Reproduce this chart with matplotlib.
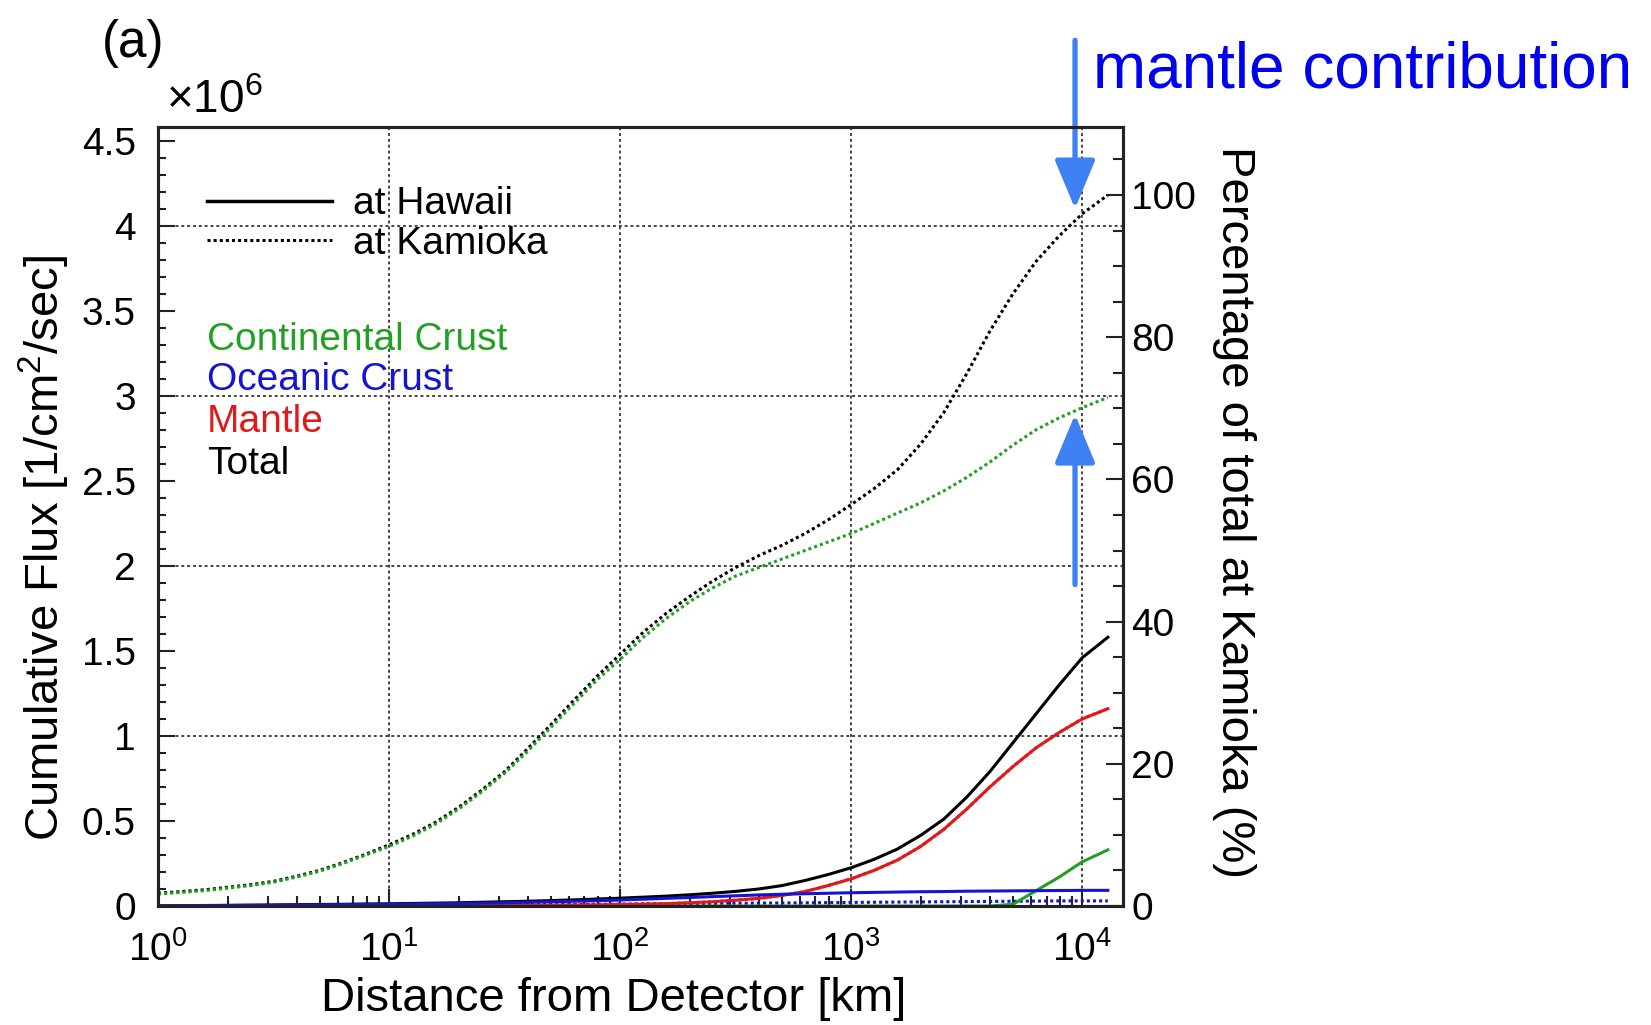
import matplotlib
matplotlib.use('Agg')
import matplotlib.pyplot as plt
from matplotlib.lines import Line2D
from matplotlib.ticker import MultipleLocator, FuncFormatter, LogLocator, NullFormatter

plt.rcParams['font.family'] = ['Liberation Sans', 'DejaVu Sans']
plt.rcParams['mathtext.fontset'] = 'custom'
plt.rcParams['mathtext.rm'] = 'Liberation Sans'
plt.rcParams['mathtext.it'] = 'Liberation Sans:italic'
plt.rcParams['mathtext.bf'] = 'Liberation Sans:bold'

# distance from detector [km], steps of 0.1 decade, last point ~ Earth diameter
dist_km = [1, 1.26, 1.58, 2.0, 2.51, 3.16, 3.98, 5.01, 6.31, 7.94,
           10, 12.6, 15.8, 20, 25.1, 31.6, 39.8, 50.1, 63.1, 79.4,
           100, 126, 158, 200, 251, 316, 398, 501, 631, 794,
           1000, 1259, 1585, 1995, 2512, 3162, 3981, 5012, 6310, 7943,
           10000, 12900]

# cumulative flux in units of 1e6 /cm2/sec
kam_cc = [0.07, 0.08, 0.09, 0.105, 0.12, 0.14, 0.17, 0.205, 0.25, 0.30,
          0.35, 0.41, 0.48, 0.57, 0.67, 0.78, 0.91, 1.05, 1.19, 1.33,
          1.45, 1.58, 1.69, 1.79, 1.87, 1.94, 1.99, 2.04, 2.09, 2.14,
          2.19, 2.25, 2.31, 2.37, 2.44, 2.52, 2.61, 2.71, 2.80, 2.87,
          2.93, 2.99]
kam_oc = [0.0, 0.0, 0.0, 0.001, 0.001, 0.002, 0.002, 0.003, 0.003, 0.004,
          0.004, 0.005, 0.005, 0.006, 0.006, 0.007, 0.008, 0.008, 0.009, 0.010,
          0.011, 0.012, 0.013, 0.014, 0.015, 0.016, 0.017, 0.018, 0.019, 0.020,
          0.021, 0.022, 0.023, 0.024, 0.025, 0.026, 0.027, 0.028, 0.029, 0.030,
          0.030, 0.030]
kam_mantle = [0.0, 0.0, 0.0, 0.0, 0.0, 0.0, 0.0, 0.0, 0.0, 0.0,
              0.001, 0.001, 0.002, 0.002, 0.003, 0.003, 0.004, 0.005, 0.006, 0.007,
              0.009, 0.011, 0.014, 0.019, 0.025, 0.034, 0.045, 0.062, 0.085, 0.12,
              0.16, 0.21, 0.27, 0.35, 0.45, 0.57, 0.70, 0.82, 0.93, 1.02,
              1.10, 1.16]
kam_total = [0.075, 0.085, 0.095, 0.11, 0.125, 0.145, 0.175, 0.21, 0.255, 0.305,
             0.36, 0.42, 0.49, 0.58, 0.68, 0.79, 0.925, 1.065, 1.21, 1.35,
             1.48, 1.61, 1.72, 1.82, 1.91, 1.99, 2.06, 2.12, 2.19, 2.27,
             2.36, 2.455, 2.565, 2.715, 2.90, 3.13, 3.38, 3.60, 3.79, 3.94,
             4.07, 4.18]

haw_cc = [0, 0, 0, 0, 0, 0, 0, 0, 0, 0,
          0, 0, 0, 0, 0, 0, 0, 0, 0, 0,
          0, 0, 0, 0, 0, 0, 0, 0, 0, 0,
          0, 0, 0, 0, 0, 0, 0.0, 0.01, 0.09, 0.17,
          0.26, 0.33]
haw_oc = [0.0, 0.001, 0.002, 0.003, 0.004, 0.005, 0.006, 0.007, 0.008, 0.009,
          0.010, 0.011, 0.013, 0.015, 0.017, 0.019, 0.022, 0.025, 0.028, 0.031,
          0.035, 0.040, 0.045, 0.050, 0.055, 0.060, 0.065, 0.069, 0.072, 0.075,
          0.078, 0.080, 0.082, 0.084, 0.085, 0.087, 0.088, 0.089, 0.090, 0.091,
          0.092, 0.092]
haw_mantle = [0.0, 0.0, 0.0, 0.0, 0.0, 0.0, 0.0, 0.0, 0.0, 0.0,
              0.001, 0.001, 0.002, 0.002, 0.003, 0.003, 0.004, 0.005, 0.006, 0.007,
              0.009, 0.011, 0.014, 0.019, 0.025, 0.034, 0.045, 0.062, 0.085, 0.12,
              0.16, 0.21, 0.27, 0.35, 0.45, 0.57, 0.70, 0.82, 0.93, 1.02,
              1.10, 1.16]
haw_total = [0.0, 0.002, 0.003, 0.004, 0.005, 0.006, 0.008, 0.009, 0.010, 0.012,
             0.013, 0.015, 0.017, 0.019, 0.022, 0.025, 0.028, 0.032, 0.036, 0.041,
             0.046, 0.052, 0.058, 0.066, 0.075, 0.086, 0.100, 0.12, 0.15, 0.185,
             0.225, 0.275, 0.335, 0.415, 0.51, 0.64, 0.79, 0.96, 1.13, 1.30,
             1.46, 1.58]

kamioka_total_final = 4.18   # = 100 % on the right axis
grid_y = [1, 2, 3, 4]

GREEN = '#22a022'
BLUE = '#1414d2'
RED = '#e01a1a'
ARROW = '#3f80f5'
DOT = (0, (1, 1))
GRID = (0, (1.5, 1.5))

fig = plt.figure(figsize=(16.51, 10.25), dpi=100)
ax = fig.add_axes([158/1651, 1 - 906/1025, 965/1651, 779/1025])

# Kamioka (dotted)
ax.plot(dist_km, kam_mantle, color=RED, lw=2.2, ls=DOT)
ax.plot(dist_km, kam_oc, color=BLUE, lw=2.2, ls=DOT)
ax.plot(dist_km, kam_total, color='k', lw=2.2, ls=DOT)
ax.plot(dist_km, kam_cc, color=GREEN, lw=2.2, ls=DOT)
# Hawaii (solid)
ax.plot(dist_km, haw_cc, color=GREEN, lw=2.2)
ax.plot(dist_km, haw_total, color='k', lw=2.2)
ax.plot(dist_km, haw_mantle, color=RED, lw=2.2)
ax.plot(dist_km, haw_oc, color=BLUE, lw=2.2)

ax.set_xscale('log')
ax.set_xlim(1, 1.5e4)
ax.set_ylim(0, 4.58)

# grid: decades on x, integer values on y
ax.grid(True, which='major', axis='x', color='#444444', ls=GRID, lw=1.4)
for g in grid_y:
    ax.axhline(g, color='#444444', ls=GRID, lw=1.4, zorder=0.5)

ax.xaxis.set_major_locator(LogLocator(base=10))
ax.xaxis.set_minor_locator(LogLocator(base=10, subs=range(2, 10)))
ax.xaxis.set_minor_formatter(NullFormatter())
ax.yaxis.set_major_locator(MultipleLocator(0.5))
ax.yaxis.set_minor_locator(MultipleLocator(0.1))
ax.yaxis.set_major_formatter(FuncFormatter(lambda v, p: '%g' % v))

ax.tick_params(which='both', direction='in', top=False, right=False, labelsize=28,
               width=1.5, color='#222222')
ax.tick_params(axis='x', which='major', length=12, pad=18)
ax.tick_params(axis='x', which='minor', length=7)
ax.tick_params(axis='y', which='major', length=12, pad=16)
ax.tick_params(axis='y', which='minor', length=6)

for s in ax.spines.values():
    s.set_linewidth(2.2)
    s.set_color('#222222')

ax.set_xlabel('Distance from Detector [km]', fontsize=34)
ax.xaxis.set_label_coords(0.4725, -0.091)
ax.set_ylabel('Cumulative Flux [1/cm$^2$/sec]', fontsize=34)
ax.yaxis.set_label_coords(-0.089, 0.46)

# right axis: percentage of the total at Kamioka
ax2 = ax.twinx()
ax2.set_ylim(0, 4.58 / kamioka_total_final * 100)
ax2.yaxis.set_major_locator(MultipleLocator(20))
ax2.yaxis.set_minor_locator(MultipleLocator(5))
ax2.tick_params(which='both', direction='in', labelsize=28, width=1.5, color='#222222')
ax2.tick_params(which='major', length=12, pad=6)
ax2.tick_params(which='minor', length=7)
for s in ax2.spines.values():
    s.set_linewidth(2.2)
    s.set_color('#222222')
ax2.set_ylabel('Percentage of total at Kamioka (%)', fontsize=34, rotation=270)
ax2.yaxis.set_label_coords(1.138, 0.506)

# legend
handles = [Line2D([], [], color='k', lw=2.5),
           Line2D([], [], color='k', lw=2.2, ls=DOT)]
ax.legend(handles, ['at Hawaii', 'at Kamioka'], loc='upper left',
          bbox_to_anchor=(0.051, 0.924), frameon=False, fontsize=28,
          handlelength=3.2, handletextpad=0.55, labelspacing=0.1,
          borderpad=0, borderaxespad=0)

labels = ['Continental Crust', 'Oceanic Crust', 'Mantle', 'Total']
label_colors = [GREEN, BLUE, RED, 'k']
label_y = [0.727, 0.675, 0.621, 0.567]
for lab, c, yy in zip(labels, label_colors, label_y):
    ax.text(0.051, yy, lab, color=c, fontsize=28, transform=ax.transAxes,
            va='center', ha='left')

fig.text(133/1651, 1 - 43/1025, '(a)', fontsize=37, ha='center', va='center')
fig.text(166/1651, 1 - 101/1025, r'$\times$10$^6$', fontsize=33, ha='left', va='center')

# annotation arrows
arrowprops = dict(arrowstyle='-|>,head_length=3.0,head_width=1.25', color=ARROW, lw=3.8,
                  mutation_scale=10, shrinkA=0, shrinkB=0)
ax.annotate('', xy=(9300, 4.10), xytext=(9300, 5.09), xycoords='data', textcoords='data',
            arrowprops=arrowprops, annotation_clip=False)
ax.annotate('', xy=(9300, 2.89), xytext=(9300, 1.89), xycoords='data', textcoords='data',
            arrowprops=arrowprops, annotation_clip=False)
fig.text(1093/1651, 1 - 70/1025, 'mantle contribution', fontsize=46, color='#0000f0',
         ha='left', va='center')

fig.savefig('out.png', dpi=100)
